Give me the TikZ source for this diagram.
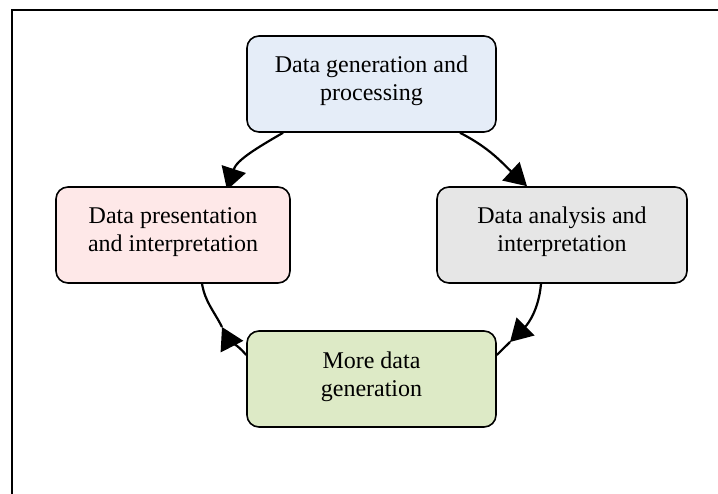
\documentclass[tikz,border=0pt]{standalone}
\usepackage{fontspec}
\setmainfont{Liberation Serif}
\usetikzlibrary{arrows.meta,calc}
\pgfdeclarelayer{bg}
\pgfsetlayers{bg,main}
\definecolor{cblue}{HTML}{E5EDF8}
\definecolor{cpink}{HTML}{FEE8E8}
\definecolor{cgray}{HTML}{E6E6E6}
\definecolor{cgreen}{HTML}{DDEAC6}
\begin{document}
\begin{tikzpicture}[x=1pt,y=-1pt,
  card/.style={draw=black, line width=1.6pt, rounded corners=12pt,
    minimum height=96pt, align=center, inner sep=0pt,
    font=\fontsize{24}{28}\selectfont, text height=40pt, text depth=6pt},
  conn/.style={line width=2.2pt, -{Triangle[length=22pt,width=25pt]}},
  plainline/.style={line width=2.2pt}]
\useasboundingbox (0,0) rectangle (718,494);
\clip (0,0) rectangle (718,494);
\draw[line width=2pt] (12,10) rectangle (740,520);

\node[card, fill=cblue, minimum width=249pt] (T) at (371.5,84) {Data generation and\\processing};
\node[card, fill=cpink, minimum width=234pt] (L) at (173,235) {Data presentation\\and interpretation};
\node[card, fill=cgray, minimum width=250pt] (R) at (562,235) {Data analysis and\\interpretation};
\node[card, fill=cgreen, minimum width=249pt] (B) at (371.5,379) {More data\\generation};

\coordinate (tip1) at (227,190);
\coordinate (tip3) at (510,342);
\coordinate (tip4) at (222,327);

\begin{pgfonlayer}{bg}
\draw[conn] ([xshift=-88.5pt]T.south) to[out=-150,in=72] (tip1);
\draw[conn] ([xshift=88.5pt]T.south) to[out=-27,in=137] ([xshift=-35pt]R.north);
\draw[conn] ([xshift=-21pt]R.south) to[out=-95,in=45] (tip3);
\draw[plainline] (tip3) -- ([yshift=24pt]B.east);
\draw[conn] ([yshift=24pt]B.west) to[out=130,in=-63] (tip4);
\draw[plainline] ([xshift=29pt]L.south) to[out=-80,in=117] (tip4);
\end{pgfonlayer}
\end{tikzpicture}
\end{document}
